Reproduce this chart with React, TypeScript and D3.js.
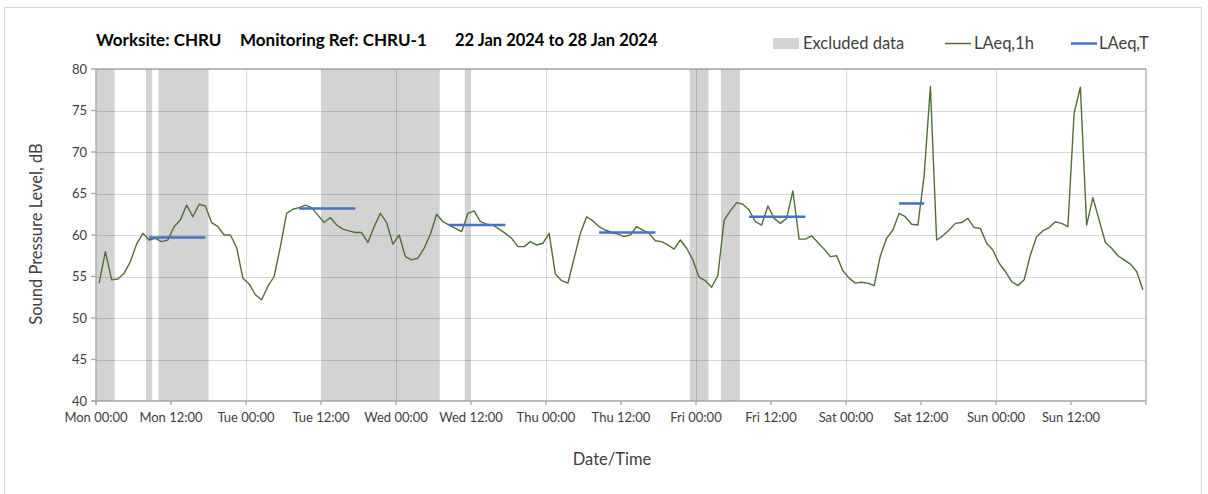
import React from "react";
import * as d3 from "d3";

// hourly LAeq,1h readings, Mon 00:00 .. Sun 23:00 (one per hour)
const hourlyLevels = [
  54.2, 58.0, 54.6, 54.7, 55.4, 56.8, 58.9, 60.2, 59.4, 59.6, 59.2, 59.4,
  61.0, 61.8, 63.6, 62.2, 63.7, 63.5, 61.5, 61.0, 60.0, 60.0, 58.5, 54.8,
  54.1, 52.8, 52.2, 53.8, 55.0, 58.6, 62.6, 63.1, 63.3, 63.6, 63.3, 62.4,
  61.5, 62.1, 61.2, 60.7, 60.5, 60.3, 60.3, 59.1, 61.0, 62.6, 61.5, 58.9,
  60.0, 57.4, 57.0, 57.2, 58.4, 60.1, 62.5, 61.6, 61.2, 60.8, 60.4, 62.6,
  62.9, 61.6, 61.3, 61.2, 60.7, 60.2, 59.6, 58.6, 58.6, 59.2, 58.8, 59.0,
  60.2, 55.3, 54.5, 54.2, 57.2, 60.2, 62.2, 61.7, 61.0, 60.6, 60.3, 60.1,
  59.8, 60.0, 61.0, 60.6, 60.2, 59.3, 59.2, 58.8, 58.3, 59.4, 58.4, 57.0,
  54.9, 54.5, 53.7, 55.1, 61.8, 62.9, 63.9, 63.7, 63.0, 61.6, 61.2, 63.5,
  62.0, 61.4, 62.0, 65.3, 59.5, 59.5, 59.9, 59.1, 58.3, 57.4, 57.5, 55.7,
  54.8, 54.2, 54.3, 54.2, 53.9, 57.5, 59.6, 60.6, 62.6, 62.2, 61.3, 61.2,
  67.1, 77.9, 59.4, 59.9, 60.6, 61.4, 61.5, 62.0, 60.9, 60.8, 59.0, 58.2,
  56.6, 55.6, 54.4, 53.9, 54.6, 57.6, 59.8, 60.5, 60.9, 61.6, 61.4, 61.0,
  74.7, 77.8, 61.2, 64.5, 61.8, 59.1, 58.4, 57.5, 57.0, 56.5, 55.6, 53.4,
];

// excluded periods, hours from Mon 00:00
const excludedStart = [0, 8, 10, 36, 59, 95, 100];
const excludedEnd = [3, 9, 18, 55, 60, 98, 103];

// LAeq,T daytime periods (first and last hourly reading covered)
const periodFirst = [8, 32, 56, 80, 104, 128];
const periodLast = [17, 41, 65, 89, 113, 132];
const periodLevels = [59.7, 63.2, 61.2, 60.3, 62.2, 63.8];

const tickLabels = [
  "Mon 00:00", "Mon 12:00", "Tue 00:00", "Tue 12:00", "Wed 00:00", "Wed 12:00",
  "Thu 00:00", "Thu 12:00", "Fri 00:00", "Fri 12:00", "Sat 00:00", "Sat 12:00",
  "Sun 00:00", "Sun 12:00",
];
const yTicks = [40, 45, 50, 55, 60, 65, 70, 75, 80];
const legendLabels = ["Excluded data", "LAeq,1h", "LAeq,T"];

const FONT = "Lato, 'Open Sans', sans-serif";
const GREEN = "#506f37";
const BLUE = "#4472c4";
const GREY = "#d3d3d3";

export default function App() {
  const width = 1208;
  const height = 494;
  const margin = { top: 69, right: 62, bottom: 93, left: 96 };

  const x = d3.scaleLinear().domain([0, 168]).range([margin.left, width - margin.right]);
  const y = d3.scaleLinear().domain([40, 80]).range([height - margin.bottom, margin.top]);

  const line = d3
    .line<number>()
    .x((_, i) => x(i + 0.5))
    .y(d => y(d));

  const dayLines = d3.range(24, 168, 24);
  const tickHours = tickLabels.map((_, i) => i * 12);

  return (
    <div style={{ position: "absolute", left: 0, top: 0 }}>
      <svg width={width} height={height} style={{ display: "block", fontFamily: FONT }}>
        <rect x={0} y={0} width={width} height={height} fill="#fff" />
        <rect x={4.5} y={7.5} width={1197} height={500} fill="none" stroke="#d9d9d9" />

        {/* title */}
        <g fontWeight="bold" fontSize={17} fill="#000">
          <text x={96} y={46}>Worksite: CHRU</text>
          <text x={240} y={46}>Monitoring Ref: CHRU-1</text>
          <text x={455} y={46} fontSize={16.5}>22 Jan 2024 to 28 Jan 2024</text>
        </g>

        {/* legend */}
        <g fontSize={16.5} fill="#404040">
          <rect x={773} y={38} width={26} height={11} fill={GREY} />
          <text x={803} y={49}>{legendLabels[0]}</text>
          <line x1={945} x2={971} y1={43.5} y2={43.5} stroke={GREEN} strokeWidth={1.5} />
          <text x={974} y={49}>{legendLabels[1]}</text>
          <line x1={1071} x2={1097} y1={43.5} y2={43.5} stroke={BLUE} strokeWidth={2.5} />
          <text x={1099} y={49}>{legendLabels[2]}</text>
        </g>

        {/* excluded data */}
        {excludedStart.map((s, i) => (
          <rect
            key={"ex" + i}
            x={x(s)}
            y={y(80)}
            width={x(excludedEnd[i]) - x(s)}
            height={y(40) - y(80)}
            fill={GREY}
          />
        ))}

        {/* gridlines */}
        <g stroke="rgba(0,0,0,0.15)" strokeWidth={1}>
          {yTicks.slice(1).map(t => (
            <line key={"gy" + t} x1={x(0)} x2={x(168)} y1={Math.round(y(t)) + 0.5} y2={Math.round(y(t)) + 0.5} />
          ))}
          {dayLines.map(h => (
            <line key={"gx" + h} x1={Math.round(x(h)) + 0.5} x2={Math.round(x(h)) + 0.5} y1={y(80)} y2={y(40)} />
          ))}
        </g>

        {/* plot border & axes */}
        <g stroke="#a6a6a6" strokeWidth={1.3} fill="none">
          <line x1={x(168)} x2={x(168)} y1={y(80)} y2={y(40)} />
          <line x1={x(0)} x2={x(168)} y1={y(80)} y2={y(80)} />
          <line x1={x(0)} x2={x(0)} y1={y(80)} y2={y(40) + 4} />
          <line x1={x(0) - 4} x2={x(168)} y1={y(40)} y2={y(40)} />
          {yTicks.map(t => (
            <line key={"ty" + t} x1={x(0) - 5} x2={x(0)} y1={y(t)} y2={y(t)} />
          ))}
          {tickHours.concat([168]).map(h => (
            <line key={"tx" + h} x1={x(h)} x2={x(h)} y1={y(40)} y2={y(40) + 4} />
          ))}
        </g>

        {/* axis labels */}
        <g fontSize={13} fill="#404040">
          {yTicks.map(t => (
            <text key={"ly" + t} x={x(0) - 9} y={y(t)} dy="0.35em" textAnchor="end">
              {t}
            </text>
          ))}
          {tickLabels.map((l, i) => (
            <text key={"lx" + i} x={x(tickHours[i])} y={y(40) + 21} textAnchor="middle">
              {l}
            </text>
          ))}
        </g>
        <text x={612} y={465} textAnchor="middle" fontSize={16.5} fill="#404040">
          Date/Time
        </text>
        <text
          transform={`translate(42,${(y(80) + y(40)) / 2 - 1}) rotate(-90)`}
          textAnchor="middle"
          fontSize={16.5}
          fill="#404040"
        >
          Sound Pressure Level, dB
        </text>

        {/* LAeq,1h */}
        <path d={line(hourlyLevels) ?? ""} fill="none" stroke={GREEN} strokeWidth={1.4} strokeLinejoin="round" />

        {/* LAeq,T */}
        {periodLevels.map((v, i) => (
          <line
            key={"t" + i}
            x1={x(periodFirst[i] + 0.5)}
            x2={x(periodLast[i] + 0.5)}
            y1={y(v)}
            y2={y(v)}
            stroke={BLUE}
            strokeWidth={2.6}
          />
        ))}
      </svg>
    </div>
  );
}
